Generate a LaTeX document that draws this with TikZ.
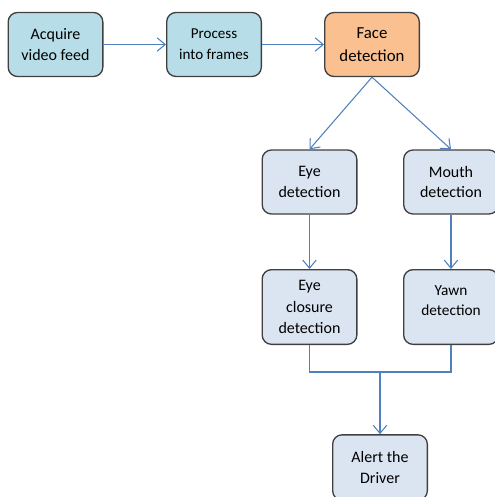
\documentclass[tikz,border=0pt]{standalone}
\usepackage{fontspec}
\setmainfont{Carlito}
\usetikzlibrary{arrows.meta}
\definecolor{stepblue}{HTML}{B7DEE8}
\definecolor{steporange}{HTML}{FAC090}
\definecolor{stepgrey}{HTML}{DBE5F1}
\definecolor{linkblue}{HTML}{4F81BD}
\definecolor{rim}{HTML}{404040}
\begin{document}
\begin{tikzpicture}
        [
            x=0.75pt, y=-0.75pt,
            box/.style={rectangle, rounded corners=7pt, draw=rim, line width=1pt, minimum width=71pt, minimum height=48pt, align=center, font=\fontsize{12}{15.5}\selectfont},
            link/.style={-{Straight Barb[length=6pt,width=10pt]}, draw=linkblue, line width=0.8pt}
        ]
        \useasboundingbox (0,0) rectangle (495,497);
        % input chain
        \node[box, fill=stepblue] (acquire) at (55.5,44.5) {Acquire\\video feed};
        \node[box, fill=stepblue, font=\fontsize{11.3}{15.5}\selectfont] (process) at (214,44.5) {Process\\into frames};
        \node[box, fill=steporange, font=\fontsize{12.6}{17}\selectfont] (face) at (372,44.5) {Face\\detection};
        \draw[link] (acquire) -- (process);
        \draw[link] (process) -- (face);
        % eye and mouth
        \node[box, fill=stepgrey] (eye) at (309.5,182) {Eye\\detection};
        \node[box, fill=stepgrey] (mouth) at (451,182) {Mouth\\detection};
        \draw[link] (face.south) -- (eye.north);
        \draw[link] (face.south) -- (mouth.north);
        \node[box, fill=stepgrey, minimum height=56pt, font=\fontsize{12}{16}\selectfont] (closure) at (309.5,307) {Eye\\closure\\detection};
        \node[box, fill=stepgrey, minimum height=56pt, font=\fontsize{11.5}{15}\selectfont] (yawn) at (451,307) {Yawn\\detection\\[-6pt]\mbox{}};
        \draw[link] (eye) -- (closure);
        \draw[link] (mouth) -- (yawn);
        % alert
        \node[box, fill=stepgrey, minimum height=49pt] (alert) at (380,467.5) {Alert the\\Driver};
        \coordinate (join) at (380,372);
        \draw[draw=linkblue, line width=0.8pt] (closure.south) |- (join) -| (yawn.south);
        \draw[link] (join) -- (alert.north);
    \end{tikzpicture}
\end{document}
